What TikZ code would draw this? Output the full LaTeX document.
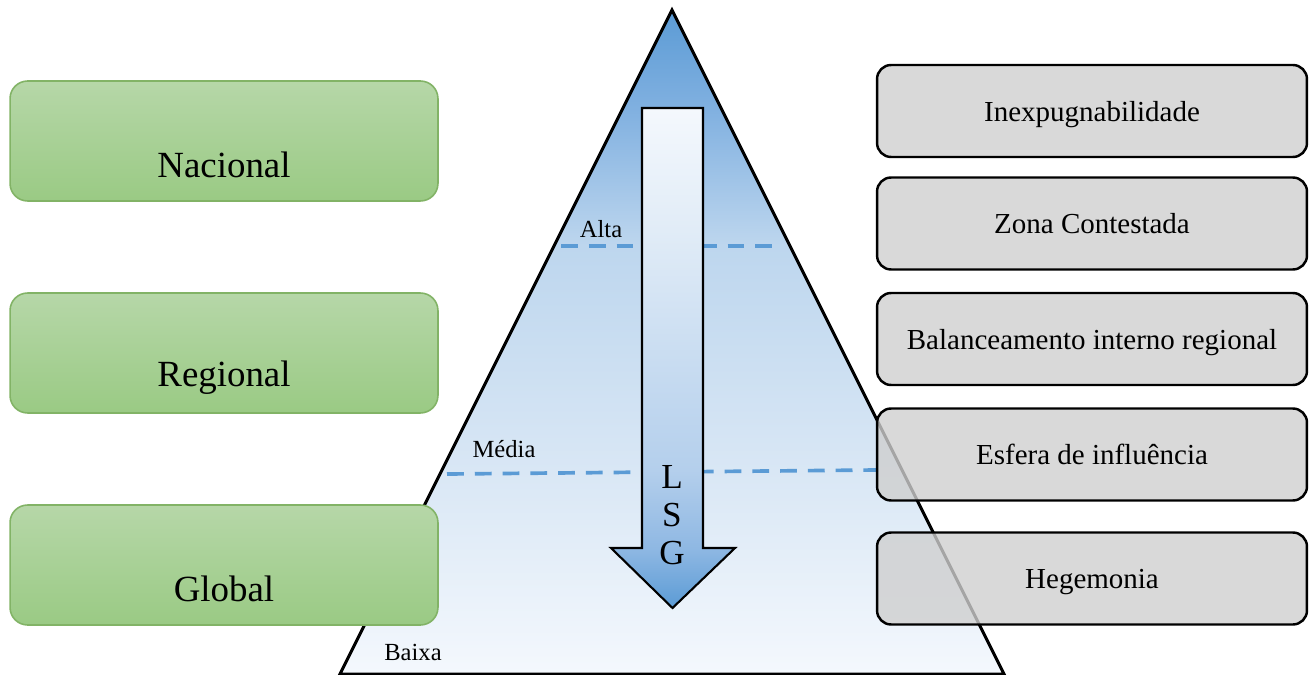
\documentclass[tikz,border=0pt]{standalone}
\usepackage{fontspec}
\setmainfont{Liberation Serif}

\definecolor{pyrA}{HTML}{F4F8FD}
\definecolor{pyrB}{HTML}{D9E7F5}
\definecolor{pyrC}{HTML}{BDD6EE}
\definecolor{pyrD}{HTML}{80B0E0}
\definecolor{pyrE}{HTML}{5B9BD5}
\definecolor{arrA}{HTML}{5B9BD5}
\definecolor{arrB}{HTML}{8FB8E3}
\definecolor{arrC}{HTML}{B4CFEC}
\definecolor{arrD}{HTML}{E1ECF7}
\definecolor{arrE}{HTML}{F4F8FD}
\definecolor{levelblue}{HTML}{5B9BD5}
\definecolor{greentop}{HTML}{B6D7A8}
\definecolor{greenbot}{HTML}{9ACA84}
\definecolor{greenline}{HTML}{82B366}
\definecolor{boxgray}{HTML}{CFCFCF}

% pyramid: light at the base, deep blue at the apex
\pgfdeclareverticalshading{pyramidfill}{100bp}{color(0bp)=(pyrA); color(25bp)=(pyrA);
  color(40.3bp)=(pyrB); color(57.3bp)=(pyrC); color(67.6bp)=(pyrD); color(75bp)=(pyrE); color(100bp)=(pyrE)}
% downward arrow: pale at the top, blue at the tip
\pgfdeclareverticalshading{arrowfill}{100bp}{color(0bp)=(arrA); color(25bp)=(arrA);
  color(31bp)=(arrB); color(38.8bp)=(arrC); color(62.8bp)=(arrD); color(75bp)=(arrE); color(100bp)=(arrE)}

\tikzset{
  levelbox/.style={draw=greenline, line width=0.9pt, rounded corners=10pt,
    top color=greentop, bottom color=greenbot, minimum width=8.56cm, minimum height=2.4cm, inner sep=0pt},
  leveltext/.style={font=\fontsize{21}{24}\selectfont, inner sep=0pt},
  stagebox/.style={draw=black, line width=1.4pt, rounded corners=8pt, fill=boxgray,
    fill opacity=0.8, text opacity=1, minimum width=8.6cm, minimum height=1.84cm,
    inner sep=0pt, text depth=0pt, font=\fontsize{16.5}{19}\selectfont},
  tierlabel/.style={font=\fontsize{14}{16}\selectfont, inner sep=0pt},
  tierline/.style={levelblue, line width=2.1pt, dash pattern=on 9.6pt off 6.2pt},
  lsgletter/.style={font=\fontsize{20}{22}\selectfont, inner sep=0pt},
}

\begin{document}
\begin{tikzpicture}[x=0.02cm, y=-0.02cm]
\useasboundingbox (0,0) rectangle (1311,675);

% pyramid
\coordinate (apex) at (672,10);
\coordinate (baseR) at (1004,674);
\coordinate (baseL) at (340,674);
\shade[shading=pyramidfill] (apex) -- (baseR) -- (baseL) -- cycle;
\draw[line width=1.7pt, line join=miter] (apex) -- (baseR) -- (baseL) -- cycle;

% tier boundaries
\coordinate (altaL) at (561,246);
\coordinate (altaR) at (782,246);
\coordinate (mediaL) at (447,474);
\coordinate (mediaR) at (878,470);
\draw[tierline] (altaL) -- (altaR);
\draw[tierline] (mediaL) -- (mediaR);

\node[tierlabel] (alta) at (601,229) {Alta};
\node[tierlabel] (media) at (504,449) {Média};
\node[tierlabel] (baixa) at (413,652) {Baixa};

% LSG arrow
\coordinate (a1) at (642,108);
\coordinate (a2) at (703,108);
\coordinate (a3) at (703,548);
\coordinate (a4) at (735,548);
\coordinate (a5) at (672.5,608);
\coordinate (a6) at (611,548);
\coordinate (a7) at (642,548);
\shade[shading=arrowfill] (a1) -- (a2) -- (a3) -- (a4) -- (a5) -- (a6) -- (a7) -- cycle;
\draw[line width=1.2pt, line join=miter] (a1) -- (a2) -- (a3) -- (a4) -- (a5) -- (a6) -- (a7) -- cycle;
\node[lsgletter] (lL) at (672,477) {L};
\node[lsgletter] (lS) at (672,515) {S};
\node[lsgletter] (lG) at (672,553) {G};

% levels on the left
\node[levelbox] (nacional) at (224,141) {};
\node[levelbox] (regional) at (224,353) {};
\node[levelbox] (global) at (224,565) {};
\node[leveltext] (tnacional) at (224,165) {Nacional};
\node[leveltext] (tregional) at (224,378) {Regional};
\node[leveltext] (tglobal) at (224,589) {Global};

% stages on the right
\node[stagebox] (inex) at (1092,111) {Inexpugnabilidade};
\node[stagebox] (zona) at (1092,223.5) {Zona Contestada};
\node[stagebox] (balan) at (1092,339) {Balanceamento interno regional};
\node[stagebox] (esfera) at (1092,454.5) {Esfera de influência};
\node[stagebox] (hege) at (1092,578.5) {Hegemonia};
\end{tikzpicture}
\end{document}
